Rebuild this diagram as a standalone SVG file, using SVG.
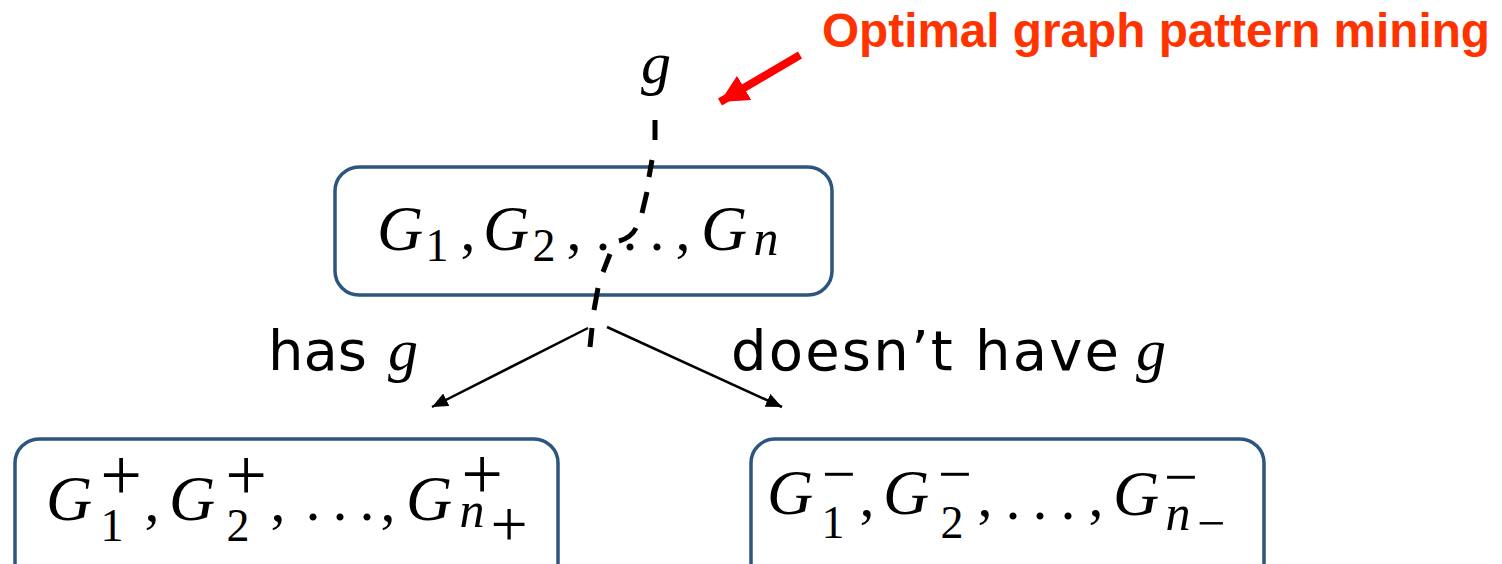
<svg xmlns="http://www.w3.org/2000/svg" width="1502" height="564" viewBox="0 0 1502 564">
  <style>
    .box { fill: #ffffff; stroke: #2c5580; stroke-width: 3.5; }
    .m { font-family: "Liberation Serif", "DejaVu Serif", serif; fill: #000; text-anchor: middle; font-size: 60px; }
    .i { font-style: italic; }
    .G { font-size: 64px; font-style: italic; }
    .d { font-size: 46px; font-style: normal; }
    .n { font-size: 50px; font-style: italic; }
    .lbl { font-family: "DejaVu Sans", "Liberation Sans", sans-serif; font-size: 56px; fill: #000; }
    .red { font-family: "Liberation Sans", Arial, sans-serif; font-weight: bold; font-size: 48px; fill: #ff3300; }
    .conn { stroke: #000; stroke-width: 2.5; fill: none; }
    .cut { stroke: #000; stroke-width: 5; fill: none; stroke-linecap: butt; }
  </style>
  <defs>
    <marker id="ah" markerUnits="userSpaceOnUse" markerWidth="18" markerHeight="14" refX="16" refY="7" orient="auto">
      <path d="M0,0 L16,7 L0,14 Z" fill="#000"/>
    </marker>
    <marker id="ahRed" markerUnits="userSpaceOnUse" markerWidth="30" markerHeight="28" refX="28" refY="14" orient="auto">
      <path d="M0,0 L28,14 L0,28 Z" fill="#ff0000"/>
    </marker>
  </defs>

  <rect width="1502" height="564" fill="#ffffff"/>

  <!-- annotation -->
  <g id="annotation">
    <text class="red" x="822" y="47" textLength="668" lengthAdjust="spacingAndGlyphs">Optimal graph pattern mining</text>
    <line x1="800" y1="55" x2="720" y2="102" stroke="#ff0000" stroke-width="8" marker-end="url(#ahRed)"/>
  </g>

  <!-- pattern g -->
  <g id="pattern">
    <text class="m i" x="656" y="83">g</text>
  </g>

  <!-- root node -->
  <g id="root">
    <rect class="box" x="335" y="167" width="497" height="128" rx="24" ry="24"/>
    <text class="m"><tspan class="G" x="400" y="250">G</tspan><tspan class="d" x="437" y="261">1</tspan><tspan x="468" y="250">,</tspan><tspan class="G" x="506" y="250">G</tspan><tspan class="d" x="544" y="261">2</tspan><tspan x="574" y="250">,</tspan><tspan x="603" y="250">.</tspan><tspan x="630" y="250">.</tspan><tspan x="657" y="250">.</tspan><tspan x="683" y="250">,</tspan><tspan class="G" x="724" y="250">G</tspan><tspan class="n" x="766" y="255">n</tspan></text>
  </g>

  <!-- left child -->
  <g id="positive">
    <rect class="box" x="15" y="439" width="543" height="150" rx="24" ry="24"/>
    <text class="m"><tspan class="G" x="69" y="520">G</tspan><tspan font-size="74" x="121" y="500">+</tspan><tspan class="d" x="112" y="541">1</tspan><tspan x="152" y="521">,</tspan><tspan class="G" x="192" y="520">G</tspan><tspan font-size="74" x="246" y="500">+</tspan><tspan class="d" x="238" y="541">2</tspan><tspan x="278" y="521">,</tspan><tspan x="313" y="520">.</tspan><tspan x="340" y="520">.</tspan><tspan x="367" y="520">.</tspan><tspan x="388" y="521">,</tspan><tspan class="G" x="429" y="520">G</tspan><tspan font-size="74" x="482" y="499">+</tspan><tspan class="n" x="472" y="527">n</tspan><tspan font-size="66" x="509" y="546">+</tspan></text>
  </g>

  <!-- right child -->
  <g id="negative">
    <rect class="box" x="751" y="439" width="513" height="150" rx="24" ry="24"/>
    <text class="m"><tspan class="G" x="790" y="514">G</tspan><tspan font-size="60" x="839" y="494">−</tspan><tspan class="d" x="833" y="538">1</tspan><tspan x="867" y="516">,</tspan><tspan class="G" x="906" y="514">G</tspan><tspan font-size="60" x="955" y="494">−</tspan><tspan class="d" x="952" y="538">2</tspan><tspan x="985" y="516">,</tspan><tspan x="1013" y="519">.</tspan><tspan x="1040" y="519">.</tspan><tspan x="1068" y="519">.</tspan><tspan x="1096" y="516">,</tspan><tspan class="G" x="1136" y="515">G</tspan><tspan font-size="60" x="1181" y="497">−</tspan><tspan class="n" x="1178" y="530">n</tspan><tspan font-size="50" x="1211" y="540">−</tspan></text>
  </g>

  <!-- connectors -->
  <g id="connectors">
    <path class="cut" d="M655,120 L655,140 M652,160 L649,177 M647,192 L642,213 M636,228 Q631,238 619,241 M610,254 L603,272 M598,288 L594,310 M592,328 L590,347"/>
    <line class="conn" x1="588" y1="328" x2="432" y2="407" marker-end="url(#ah)"/>
    <line class="conn" x1="607" y1="327" x2="782" y2="407" marker-end="url(#ah)"/>
    <text class="lbl" x="268" y="370">has</text>
    <text class="m i" x="403" y="370">g</text>
    <text class="lbl" x="731" y="370" textLength="388" lengthAdjust="spacing">doesn’t have</text>
    <text class="m i" x="1151" y="370">g</text>
  </g>
</svg>
